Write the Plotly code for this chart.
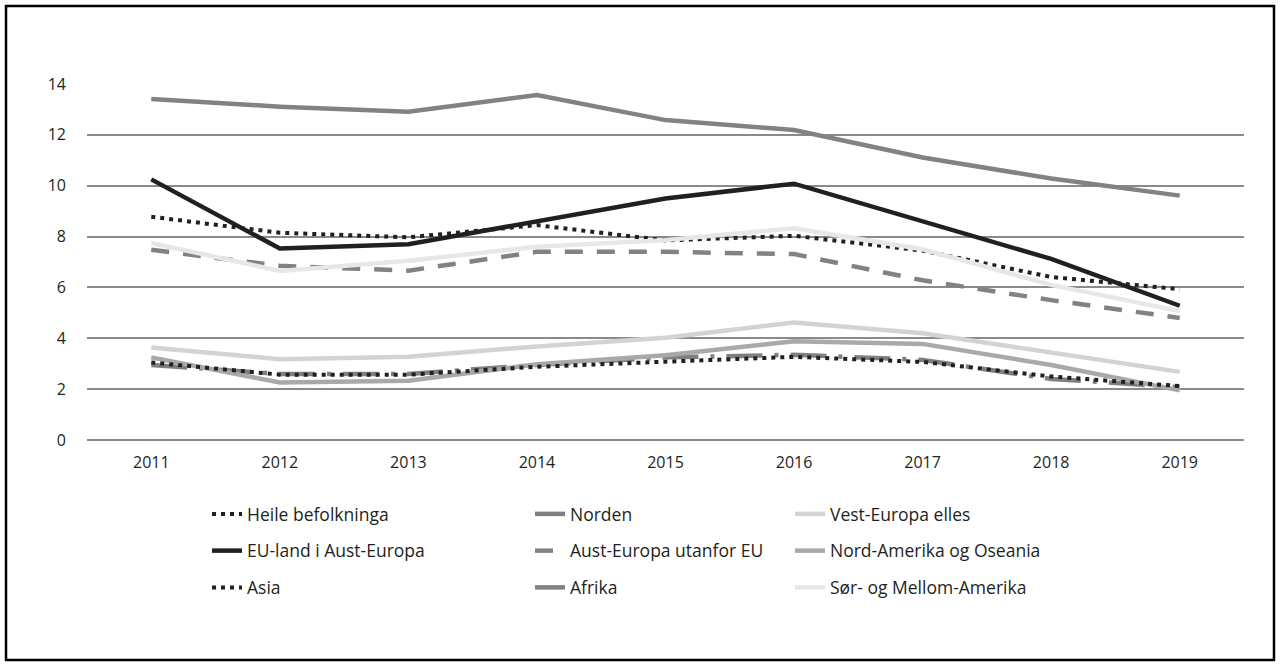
import plotly.graph_objects as go

years = ["2011", "2012", "2013", "2014", "2015", "2016", "2017", "2018", "2019"]

heile = [8.78, 8.15, 7.97, 8.45, 7.85, 8.03, 7.45, 6.41, 5.93]
norden = [2.95, 2.6, 2.6, 2.95, 3.25, 3.35, 3.15, 2.4, 2.08]
vest_europa = [3.64, 3.18, 3.27, 3.68, 4.02, 4.62, 4.2, 3.45, 2.68]
eu_aust = [10.25, 7.53, 7.7, 8.62, 9.5, 10.08, 8.62, 7.12, 5.28]
aust_utan = [7.48, 6.85, 6.66, 7.4, 7.4, 7.31, 6.28, 5.5, 4.8]
nord_am = [3.25, 2.26, 2.33, 2.98, 3.33, 3.88, 3.78, 2.95, 1.95]
asia = [3.05, 2.57, 2.57, 2.88, 3.08, 3.27, 3.07, 2.5, 2.12]
afrika = [13.41, 13.11, 12.91, 13.57, 12.58, 12.19, 11.11, 10.28, 9.61]
sor_mellom = [7.75, 6.65, 7.05, 7.6, 7.86, 8.33, 7.5, 6.1, 5.07]

W, H = 1280, 666
ML, MR, MT, MB = 87, 36, 84, 226

# (name, values, colour, width, dash, legend column)
series = [
    ("Heile befolkninga", heile, "#231f20", 4, "4px,5px", "legend"),
    ("Norden", norden, "#7f7f82", 4.5, "36px,12px,4px,12px", "legend2"),
    ("Vest-Europa elles", vest_europa, "#d1d3d4", 4.5, "solid", "legend3"),
    ("EU-land i Aust-Europa", eu_aust, "#231f20", 4.5, "solid", "legend"),
    ("Aust-Europa utanfor EU", aust_utan, "#808285", 4.5, "18px,14px", "legend2"),
    ("Nord-Amerika og Oseania", nord_am, "#a7a9ac", 4.5, "solid", "legend3"),
    ("Asia", asia, "#231f20", 4, "4px,5px", "legend"),
    ("Afrika", afrika, "#808285", 4.5, "solid", "legend2"),
    ("Sør- og Mellom-Amerika", sor_mellom, "#e6e7e8", 4.5, "solid", "legend3"),
]

fig = go.Figure()
for i, (name, vals, color, width, dash, leg) in enumerate(series):
    fig.add_trace(go.Scatter(
        x=years, y=vals, name=name, mode="lines",
        line=dict(color=color, width=width, dash=dash),
        legend=leg, legendgroup="g%d" % i,
    ))

ph = H - MT - MB
pw = W - ML - MR

def py(pix):
    return (H - MB - pix) / ph

def px(pix):
    return (pix - ML) / pw

legfont = dict(family="Open Sans, Noto Sans, sans-serif", size=17.5, color="#231f20")
common = dict(orientation="v", xanchor="left", yanchor="top", y=py(496),
              font=legfont, bgcolor="rgba(0,0,0,0)", itemwidth=30,
              traceorder="grouped", tracegroupgap=11)

fig.update_layout(
    width=W, height=H,
    margin=dict(l=ML, r=MR, t=MT, b=MB),
    paper_bgcolor="white", plot_bgcolor="white",
    font=dict(family="Open Sans, Noto Sans, sans-serif", size=16, color="#231f20"),
    xaxis=dict(type="category", range=[-0.5, 8.5], showgrid=False, showline=False,
               zeroline=False, ticks="", tickfont=dict(size=16), ticklabelstandoff=11),
    yaxis=dict(range=[0, 14], dtick=2, showgrid=True, gridcolor="#8a8a8a", gridwidth=1.5,
               zeroline=True, zerolinecolor="#8a8a8a", zerolinewidth=1.5,
               showline=False, ticks="", tickfont=dict(size=16), ticklabelstandoff=20),
    legend=dict(x=px(207), **common),
    legend2=dict(x=px(530), **common),
    legend3=dict(x=px(790), **common),
    shapes=[dict(type="rect", xref="paper", yref="paper",
                 x0=px(6), x1=px(1274), y0=py(660), y1=py(6),
                 line=dict(color="#000000", width=2.5), fillcolor="rgba(0,0,0,0)",
                 layer="above")],
)

fig.write_html("out.html", config={"displayModeBar": False},
               post_script="document.body.style.margin='0';")
